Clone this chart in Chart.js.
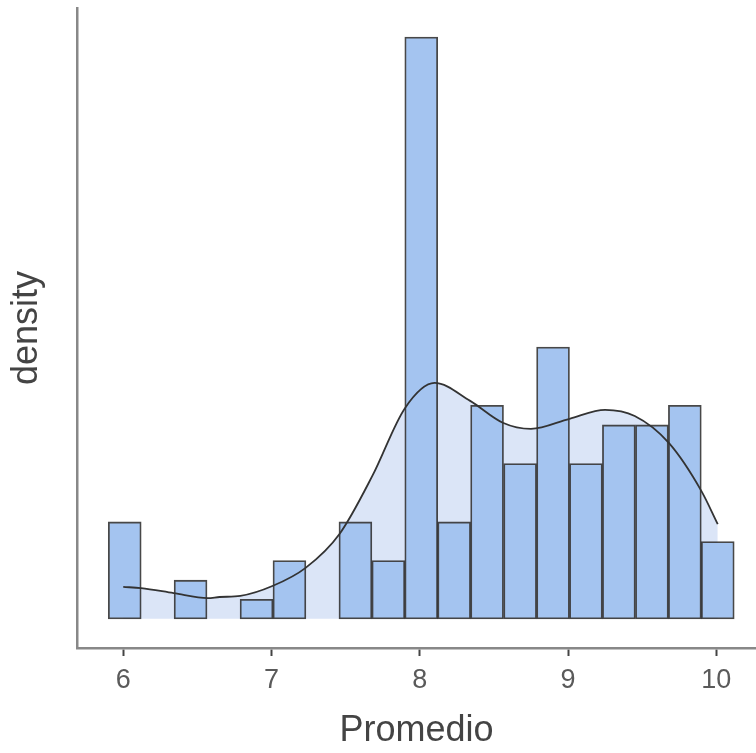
<!DOCTYPE html>
<html>
<head>
<meta charset="utf-8">
<script src="https://cdn.jsdelivr.net/npm/chart.js@4.4.1/dist/chart.umd.min.js"></script>
<style>
  html, body { margin: 0; padding: 0; background: #fff; overflow: hidden; }
  #wrap { width: 756px; height: 753px; position: relative; }
</style>
</head>
<body>
<div id="wrap"><canvas id="histChart"></canvas></div>
<script>
// histogram bins (centres) and their density heights, null = empty bin
const binCenters = [6.010, 6.232, 6.454, 6.677, 6.899, 7.121, 7.343, 7.566, 7.788, 8.010,
                    8.232, 8.454, 8.677, 8.899, 9.121, 9.343, 9.566, 9.788, 10.010];
const binDensity = [0.173, null, 0.069, null, 0.035, 0.104, null, 0.173, 0.104, 1.038,
                    0.173, 0.381, 0.277, 0.485, 0.277, 0.346, 0.346, 0.381, 0.138];

// density curve
const kdeX = [6.00, 6.12, 6.34, 6.57, 6.65, 6.79, 7.01, 7.23, 7.46, 7.68, 7.90,
              8.10, 8.34, 8.56, 8.75, 9.01, 9.25, 9.45, 9.68, 9.90, 10.01];
const kdeY = [0.057, 0.055, 0.046, 0.037, 0.039, 0.041, 0.059, 0.091, 0.152, 0.255, 0.376,
              0.421, 0.389, 0.350, 0.339, 0.357, 0.373, 0.362, 0.314, 0.228, 0.169];

const xTicks = [6, 7, 8, 9, 10];
const xTitle = 'Promedio';
const yTitle = 'density';

const FONT = "'Liberation Sans', Arial, sans-serif";

const bars = binCenters.map((x, i) => ({ x, y: binDensity[i] }));
const curve = kdeX.map((x, i) => ({ x, y: kdeY[i] }));

const ctx = document.getElementById('histChart').getContext('2d');

new Chart(ctx, {
    type: 'bar',
    data: {
        datasets: [
            {
                // shaded area under the density curve, behind the bars
                type: 'line',
                data: curve,
                order: 3,
                borderWidth: 0,
                pointRadius: 0,
                fill: 'origin',
                backgroundColor: 'rgb(219,229,247)',
                cubicInterpolationMode: 'monotone'
            },
            {
                data: bars,
                order: 2,
                backgroundColor: 'rgb(164,196,240)',
                borderColor: 'rgba(40,40,40,0.85)',
                borderWidth: 1.8,
                borderSkipped: false,
                barPercentage: 1,
                categoryPercentage: 1
            },
            {
                type: 'line',
                data: curve,
                order: 1,
                borderColor: '#333',
                borderWidth: 1.8,
                pointRadius: 0,
                fill: false,
                cubicInterpolationMode: 'monotone'
            }
        ]
    },
    options: {
        responsive: true,
        maintainAspectRatio: false,
        animation: false,
        layout: { padding: { top: 8, right: 0, bottom: 0, left: 0 } },
        plugins: {
            legend: { display: false },
            tooltip: { enabled: false }
        },
        scales: {
            x: {
                type: 'linear',
                min: 5.688,
                max: 10.268,
                offset: false,
                afterBuildTicks: s => { s.ticks = xTicks.map(v => ({ value: v })); },
                afterFit: s => { s.height = 105; },
                grid: {
                    display: true,
                    offset: false,
                    drawOnChartArea: false,
                    drawTicks: true,
                    tickLength: 8,
                    tickColor: '#444',
                    tickWidth: 2
                },
                border: { display: true, color: '#888', width: 2.5 },
                ticks: {
                    padding: 8,
                    color: '#5a5a5a',
                    font: { family: FONT, size: 27 }
                },
                title: {
                    display: true,
                    text: xTitle,
                    color: '#444',
                    font: { family: FONT, size: 36 },
                    padding: 0
                }
            },
            y: {
                min: -0.052,
                max: 1.09,
                afterFit: s => { s.width = 77; },
                grid: { display: false, drawTicks: false },
                border: { display: true, color: '#888', width: 2.5 },
                ticks: { display: false },
                title: {
                    display: true,
                    text: yTitle,
                    color: '#444',
                    font: { family: FONT, size: 36 },
                    padding: { top: 5, bottom: 0 }
                }
            }
        }
    }
});
</script>
</body>
</html>
